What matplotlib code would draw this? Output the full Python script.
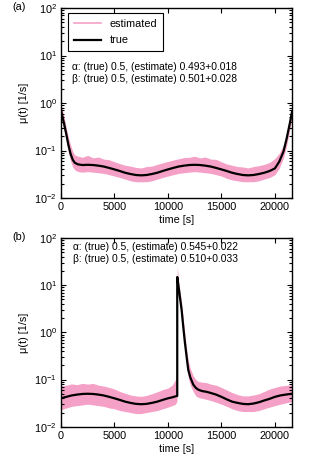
import matplotlib
matplotlib.use("Agg")
import matplotlib.pyplot as plt
from matplotlib.ticker import LogLocator, FixedLocator

plt.rcParams["font.family"] = ["Liberation Sans", "DejaVu Sans"]
plt.rcParams["mathtext.fontset"] = "custom"
plt.rcParams["mathtext.rm"] = "Liberation Sans"
plt.rcParams["mathtext.it"] = "Liberation Sans:italic"
plt.rcParams["font.size"] = 7.8

PINK = "#f5a0c6"

# ---- panel (a) ----
t_a = [0, 150, 300, 500, 700, 900, 1100, 1300, 1600, 2000, 2500, 3000, 3500,
       4000, 4500, 5000, 5500, 6000, 6500, 7000, 7500, 8000, 8500, 9000, 9500,
       10000, 10500, 11000, 11500, 12000, 12500, 13000, 13500, 14000, 14500,
       15000, 15500, 16000, 16500, 17000, 17500, 18000, 18500, 19000, 19500,
       20000, 20400, 20800, 21100, 21400, 21600]
true_a = [0.72, 0.5, 0.36, 0.22, 0.13, 0.085, 0.064, 0.055, 0.051, 0.0495, 0.05,
          0.0495, 0.048, 0.046, 0.043, 0.04, 0.037, 0.034, 0.032, 0.0305, 0.03,
          0.0305, 0.032, 0.034, 0.037, 0.04, 0.043, 0.046, 0.048, 0.0495, 0.05,
          0.0495, 0.048, 0.046, 0.043, 0.04, 0.037, 0.034, 0.032, 0.0305, 0.03,
          0.0305, 0.032, 0.034, 0.037, 0.042, 0.058, 0.095, 0.18, 0.38, 0.65]
hi_a = [1.0, 0.7, 0.5, 0.3, 0.19, 0.13, 0.095, 0.08, 0.076, 0.072, 0.079, 0.07,
        0.073, 0.066, 0.064, 0.058, 0.053, 0.049, 0.047, 0.044, 0.043, 0.046,
        0.047, 0.051, 0.055, 0.059, 0.063, 0.067, 0.071, 0.072, 0.076, 0.07,
        0.073, 0.066, 0.065, 0.058, 0.052, 0.049, 0.046, 0.045, 0.043, 0.046,
        0.048, 0.051, 0.056, 0.068, 0.087, 0.13, 0.24, 0.5, 0.85]
lo_a = [0.5, 0.36, 0.26, 0.15, 0.09, 0.06, 0.045, 0.039, 0.036, 0.035, 0.036,
        0.035, 0.034, 0.033, 0.031, 0.029, 0.027, 0.025, 0.023, 0.022, 0.022,
        0.022, 0.023, 0.025, 0.027, 0.029, 0.031, 0.033, 0.034, 0.035, 0.036,
        0.035, 0.034, 0.033, 0.031, 0.029, 0.026, 0.024, 0.023, 0.022, 0.022,
        0.022, 0.023, 0.025, 0.027, 0.031, 0.042, 0.07, 0.13, 0.28, 0.48]

# ---- panel (b) ----
t_true_b = [0, 500, 1000, 1500, 2000, 2500, 3000, 3500, 4000, 4500, 5000, 5500,
            6000, 6500, 7000, 7500, 8000, 8500, 9000, 9500, 10000, 10400, 10700,
            10870, 10870, 11050, 11280, 11450, 11590, 11750, 11900, 12100, 12370,
            12600, 12830, 13200, 13600, 14000, 14500, 15000, 15500, 16000, 16500,
            17000, 17500, 18000, 18500, 19000, 19500, 20000, 20500, 21000, 21600]
true_b = [0.04, 0.043, 0.046, 0.048, 0.0495, 0.05, 0.0495, 0.048, 0.046, 0.043,
          0.04, 0.037, 0.034, 0.032, 0.0305, 0.03, 0.0305, 0.032, 0.034, 0.037,
          0.04, 0.042, 0.044, 0.045, 15, 7.5, 3.0, 1.2, 0.6, 0.3, 0.16, 0.11,
          0.078, 0.067, 0.061, 0.057, 0.055, 0.052, 0.048, 0.043, 0.038, 0.034,
          0.032, 0.0305, 0.03, 0.031, 0.033, 0.036, 0.039, 0.043, 0.046, 0.048,
          0.05]
t_band_b = [0, 500, 1000, 1500, 2000, 2500, 3000, 3500, 4000, 4500, 5000, 5500,
            6000, 6500, 7000, 7500, 8000, 8500, 9000, 9500, 10000, 10400, 10700,
            10850, 10870, 11050, 11280, 11450, 11590, 11750, 11900, 12100, 12370,
            12600, 12830, 13200, 13600, 14000, 14500, 15000, 15500, 16000, 16500,
            17000, 17500, 18000, 18500, 19000, 19500, 20000, 20500, 21000, 21600]
lo_b = [0.023, 0.025, 0.027, 0.028, 0.029, 0.03, 0.029, 0.028, 0.027, 0.025,
        0.024, 0.022, 0.021, 0.02, 0.019, 0.019, 0.02, 0.021, 0.022, 0.024, 0.026,
        0.028, 0.03, 0.035, 10, 5.0, 2.0, 0.8, 0.4, 0.2, 0.11, 0.075, 0.055,
        0.045, 0.042, 0.04, 0.038, 0.036, 0.033, 0.03, 0.027, 0.024, 0.022,
        0.021, 0.021, 0.021, 0.022, 0.024, 0.026, 0.028, 0.03, 0.032, 0.034]
hi_b = [0.072, 0.076, 0.081, 0.078, 0.083, 0.08, 0.083, 0.076, 0.073, 0.068,
        0.063, 0.056, 0.051, 0.047, 0.045, 0.044, 0.046, 0.05, 0.055, 0.061, 0.066,
        0.076, 0.1, 0.13, 25, 10, 4.2, 1.8, 0.9, 0.45, 0.25, 0.17, 0.12, 0.1,
        0.091, 0.088, 0.086, 0.08, 0.076, 0.068, 0.06, 0.053, 0.048, 0.045,
        0.045, 0.047, 0.05, 0.056, 0.063, 0.068, 0.073, 0.075, 0.078]

xticks = [0, 5000, 10000, 15000, 20000]
text_a = ["α: (true) 0.5, (estimate) 0.493+0.018",
          "β: (true) 0.5, (estimate) 0.501+0.028"]
text_b = ["α: (true) 0.5, (estimate) 0.545+0.022",
          "β: (true) 0.5, (estimate) 0.510+0.033"]


def style_axes(ax):
    ax.set_yscale("log")
    ax.set_xlim(0, 21600)
    ax.set_ylim(1e-2, 1e2)
    ax.xaxis.set_major_locator(FixedLocator(xticks))
    ax.yaxis.set_major_locator(LogLocator(base=10, numticks=10))
    ax.yaxis.set_minor_locator(LogLocator(base=10, subs=range(2, 10), numticks=10))
    ax.tick_params(which="both", direction="in", top=True, right=True, width=0.8)
    ax.tick_params(which="major", length=3.5, pad=3)
    ax.tick_params(which="minor", length=2)
    for s in ax.spines.values():
        s.set_linewidth(1.0)
    ax.set_xlabel("time [s]", labelpad=2)
    ax.set_ylabel("μ(t) [1/s]")
    ax.yaxis.set_label_coords(-0.139, 0.5)


fig = plt.figure(figsize=(3.11, 4.61), dpi=100)
ax1 = fig.add_axes([0.196, 0.5705, 0.743, 0.412])
ax2 = fig.add_axes([0.196, 0.0744, 0.743, 0.409])

ax1.fill_between(t_a, lo_a, hi_a, color=PINK, lw=0)
ax1.plot([], [], color=PINK, lw=1.2, label="estimated")
ax1.plot(t_a, true_a, color="black", lw=1.6, label="true")
style_axes(ax1)
leg = ax1.legend(loc="upper left", bbox_to_anchor=(0.03, 0.974), borderaxespad=0,
                 frameon=True, fancybox=False, edgecolor="black", framealpha=1,
                 handlelength=2.5, handletextpad=0.8, borderpad=0.55,
                 labelspacing=0.6, fontsize=7.8)
leg.get_frame().set_linewidth(0.8)
ax1.text(0.048, 0.689, text_a[0], transform=ax1.transAxes, fontsize=7.4,
         va="center")
ax1.text(0.048, 0.626, text_a[1], transform=ax1.transAxes, fontsize=7.4,
         va="center")

ax2.fill_between(t_band_b, lo_b, hi_b, color=PINK, lw=0)
ax2.plot(t_true_b, true_b, color="black", lw=1.6)
style_axes(ax2)
ax2.text(0.05, 0.955, text_b[0], transform=ax2.transAxes, fontsize=7.4,
         va="center")
ax2.text(0.05, 0.888, text_b[1], transform=ax2.transAxes, fontsize=7.4,
         va="center")

fig.text(0.04, 0.985, "(a)", fontsize=7.8, va="center")
fig.text(0.04, 0.4866, "(b)", fontsize=7.8, va="center")

fig.savefig("out.png", dpi=100)
